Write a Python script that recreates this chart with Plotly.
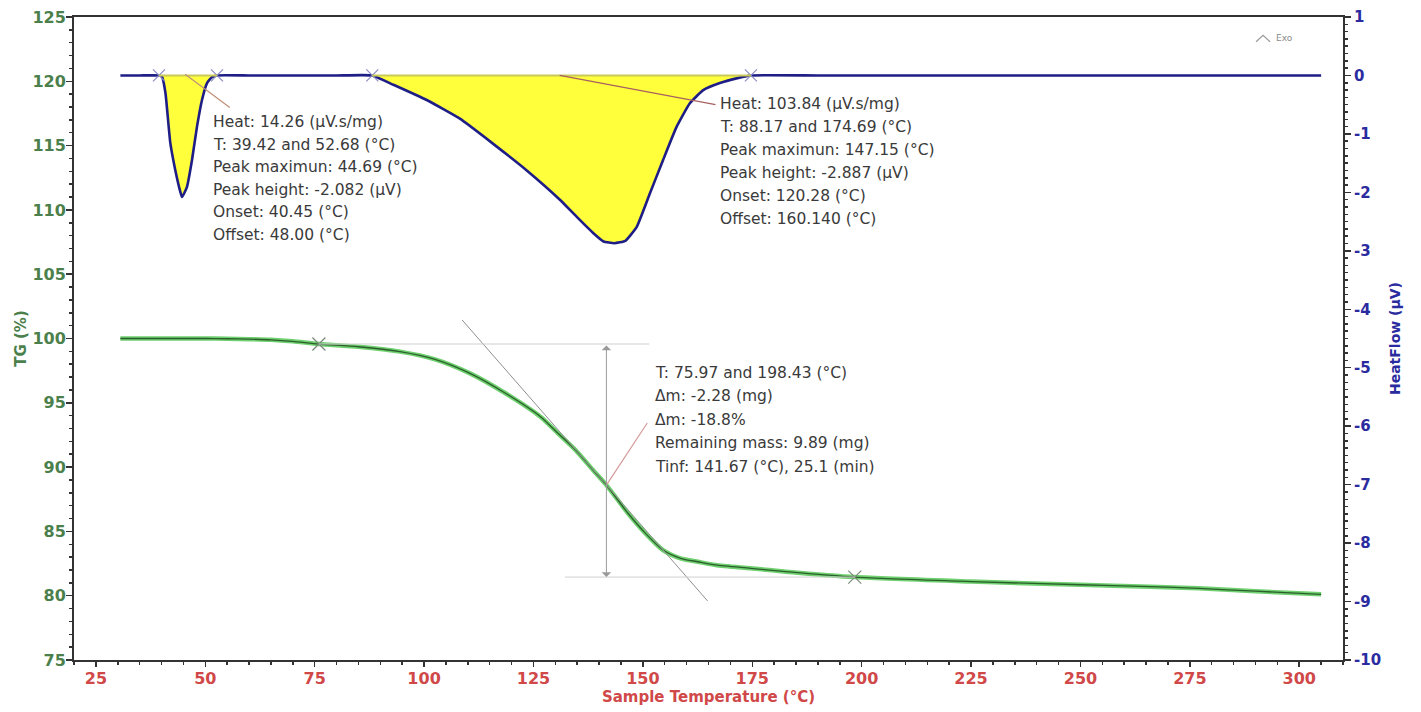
import plotly.graph_objects as go

# ---------------- data ----------------
# DSC heat flow (right axis, µV) vs sample temperature (°C)
dsc_temp = [30.6, 35.0, 39.42, 40.1, 40.9, 42.0, 43.15, 44.3, 44.69, 45.8, 46.96, 48.1, 49.25, 50.4, 51.5, 52.68,
            60.0, 70.0, 80.0, 88.17, 93.0, 100.6, 108.2, 115.8, 123.4, 131.1, 134.9, 138.7, 141.0, 143.5, 146.0,
            148.6, 151.6, 154.6, 157.7, 160.7, 163.8, 167.6, 171.4, 174.69, 190.0, 220.0, 250.0, 280.0, 305.0]
dsc_heatflow = [0, 0, 0, -0.02, -0.30, -1.15, -1.62, -1.99, -2.08, -1.91, -1.45, -0.88, -0.42, -0.13, -0.03, 0,
                0, 0, 0, 0, -0.16, -0.42, -0.74, -1.17, -1.62, -2.13, -2.42, -2.70, -2.84, -2.87, -2.83,
                -2.59, -2.02, -1.45, -0.88, -0.48, -0.25, -0.13, -0.05, 0, 0, 0, 0, 0, 0]
# integration limits of the two endothermic peaks
peak_limits = [(39.42, 52.68), (88.17, 174.69)]

# TG mass (left axis, %) vs sample temperature (°C)
tg_temp = [30.6, 40, 50, 55, 60, 65, 70, 75.97, 85, 94.5, 102.5, 110.5, 118.6, 126.6, 130.6, 134.6, 138.6,
           141.67, 146.6, 150.6, 154.6, 158.6, 162.6, 166.6, 174.6, 182.7, 198.43, 225, 250, 266, 277, 290, 305]
tg_mass = [100.0, 100.0, 100.0, 99.98, 99.95, 99.9, 99.78, 99.57, 99.36, 98.98, 98.38, 97.29, 95.74, 93.92,
           92.63, 91.33, 89.77, 88.6, 86.41, 84.85, 83.55, 82.91, 82.64, 82.39, 82.13, 81.87, 81.45, 81.1,
           80.85, 80.7, 80.57, 80.35, 80.11]
tg_limits = [75.97, 198.43]
tg_limit_mass = [99.57, 81.45]
tinf = 141.67
tinf_mass = 88.6
tangent_t = [108.7, 164.8]
tangent_m = [101.44, 79.59]

x_ticks = list(range(25, 301, 25))
y_ticks = list(range(75, 126, 5))
y2_ticks = list(range(-10, 2))
y2_labels = [str(v) for v in y2_ticks]

peak1_text = ["Heat: 14.26 (µV.s/mg)", "T: 39.42 and 52.68 (°C)", "Peak maximun: 44.69 (°C)",
              "Peak height: -2.082 (µV)", "Onset: 40.45 (°C)", "Offset: 48.00 (°C)"]
peak2_text = ["Heat: 103.84 (µV.s/mg)", "T: 88.17 and 174.69 (°C)", "Peak maximun: 147.15 (°C)",
              "Peak height: -2.887 (µV)", "Onset: 120.28 (°C)", "Offset: 160.140 (°C)"]
tg_text = ["T: 75.97 and 198.43 (°C)", "Δm: -2.28 (mg)", "Δm: -18.8%",
           "Remaining mass: 9.89 (mg)", "Tinf: 141.67 (°C), 25.1 (min)"]

# ---------------- styles ----------------
GREEN = "#4b7f4b"
RED = "#d04848"
BLUE = "#2b2ba0"
AXIS = "#333333"
TXT = "#3a3a3a"
FONT = "DejaVu Sans"

fig = go.Figure()

# DSC curve with yellow peak areas
fig.add_trace(go.Scatter(x=dsc_temp, y=dsc_heatflow, yaxis="y2", mode="lines",
                         line=dict(color="#1e1e86", width=2.6, shape="spline", smoothing=0.4),
                         fill="tozeroy", fillcolor="#ffff3c", hoverinfo="skip", showlegend=False))
# integration limit markers
lim_x = [v for pair in peak_limits for v in pair]
fig.add_trace(go.Scatter(x=lim_x, y=[0] * len(lim_x), yaxis="y2", mode="markers",
                         marker=dict(symbol="x-thin", size=12, line=dict(color="#8c8cc8", width=1.2)),
                         hoverinfo="skip", showlegend=False))

# TG curve (light green halo + dark core)
fig.add_trace(go.Scatter(x=tg_temp, y=tg_mass, mode="lines",
                         line=dict(color="#6fd06f", width=4.5, shape="spline", smoothing=0.7),
                         hoverinfo="skip", showlegend=False))
fig.add_trace(go.Scatter(x=tg_temp, y=tg_mass, mode="lines",
                         line=dict(color="#2c5e2c", width=1.3, shape="spline", smoothing=0.7),
                         hoverinfo="skip", showlegend=False))
fig.add_trace(go.Scatter(x=tg_limits, y=tg_limit_mass, mode="markers",
                         marker=dict(symbol="x-thin", size=13, line=dict(color="#7a8a7a", width=1.2)),
                         hoverinfo="skip", showlegend=False))

shapes = []
# integration baselines (olive) on top of the yellow fill
for a, b in peak_limits:
    shapes.append(dict(type="line", xref="x", yref="y2", x0=a, x1=b, y0=0, y1=0,
                       line=dict(color="#c9c95a", width=2)))
# leader lines of the DSC annotations
shapes.append(dict(type="line", xref="x", yref="y2", x0=45.4, y0=0.02, x1=55.6, y1=-0.55,
                   line=dict(color="#c09078", width=1.2)))
shapes.append(dict(type="line", xref="x", yref="y2", x0=131.0, y0=0.0, x1=166.6, y1=-0.5,
                   line=dict(color="#a86060", width=1.2)))
# TG tangent, reference levels and leader
shapes.append(dict(type="line", xref="x", yref="y", x0=tangent_t[0], y0=tangent_m[0],
                   x1=tangent_t[1], y1=tangent_m[1], line=dict(color="#8f8f8f", width=1)))
shapes.append(dict(type="line", xref="x", yref="y", x0=tg_limits[0], x1=151.5,
                   y0=tg_limit_mass[0], y1=tg_limit_mass[0], line=dict(color="#d0d0d0", width=1)))
shapes.append(dict(type="line", xref="x", yref="y", x0=132.2, x1=tg_limits[1],
                   y0=tg_limit_mass[1], y1=tg_limit_mass[1], line=dict(color="#d0d0d0", width=1)))
shapes.append(dict(type="line", xref="x", yref="y", x0=tinf, y0=tinf_mass, x1=151.0, y1=93.43,
                   line=dict(color="#d49a9a", width=1.2)))
# "Exo" chevron (paper coordinates)
shapes.append(dict(type="path", xref="paper", yref="paper",
                   path="M 0.9315 0.9615 L 0.937 0.9715 L 0.9425 0.9615",
                   line=dict(color="#9a9a9a", width=1.2)))

annotations = []
# vertical double arrow (mass loss)
annotations.append(dict(x=tinf, y=tg_limit_mass[1], ax=tinf, ay=tg_limit_mass[0], xref="x", yref="y",
                        axref="x", ayref="y", text="", showarrow=True, arrowhead=1, startarrowhead=1,
                        arrowside="end+start", arrowsize=1.6, arrowwidth=1, arrowcolor="#9a9a9a"))


def add_block(lines, x, y0, step, yref):
    for i, t in enumerate(lines):
        annotations.append(dict(x=x, y=y0, xref="x", yref=yref, text=t, showarrow=False,
                                xanchor="left", yanchor="middle", yshift=-i * step,
                                font=dict(family=FONT, size=15.5, color=TXT)))


add_block(peak1_text, 51.2, 116.84, 22.6, "y")
add_block(peak2_text, 167.2, 118.24, 23.0, "y")
add_block(tg_text, 152.3, 97.32, 23.4, "y")

annotations.append(dict(x=0.962, y=0.978, xref="paper", yref="paper", text="Exo", showarrow=False,
                        font=dict(family=FONT, size=9, color="#8a8a8a")))

fig.update_layout(
    width=1421, height=712,
    margin=dict(l=74, r=78, t=17, b=52),
    paper_bgcolor="white", plot_bgcolor="white",
    showlegend=False, hovermode=False,
    shapes=shapes, annotations=annotations,
    xaxis=dict(range=[20, 310], tickvals=x_ticks, ticks="outside", ticklen=5, tickwidth=1.5,
               tickcolor=AXIS, showline=True, linecolor=AXIS, linewidth=2, mirror=True,
               showgrid=False, zeroline=False, automargin=False, ticklabelstandoff=-2,
               minor=dict(dtick=5, tick0=0, ticks="outside", ticklen=3, tickcolor=AXIS, showgrid=False),
               tickfont=dict(family=FONT, size=16, color=RED, weight="bold"),
               title=dict(text="Sample Temperature (°C)", standoff=2,
                          font=dict(family=FONT, size=15, color=RED, weight="bold"))),
    yaxis=dict(range=[75, 125], tickvals=y_ticks, ticks="outside", ticklen=6, tickwidth=1.5,
               tickcolor=AXIS, showline=True, linecolor=AXIS, linewidth=2,
               showgrid=False, zeroline=False, automargin=False, ticklabelstandoff=-3,
               minor=dict(dtick=1, tick0=0, ticks="outside", ticklen=3, tickcolor=AXIS, showgrid=False),
               tickfont=dict(family=FONT, size=16, color=GREEN, weight="bold"),
               title=dict(text="TG (%)", standoff=2,
                          font=dict(family=FONT, size=15, color=GREEN, weight="bold"))),
    yaxis2=dict(range=[-10, 1], overlaying="y", side="right", tickvals=y2_ticks, ticktext=y2_labels,
                ticks="outside", ticklen=6, tickwidth=1.5, tickcolor=AXIS, showline=True,
                linecolor=AXIS, linewidth=2, showgrid=False, zeroline=False, automargin=False,
                minor=dict(dtick=0.125, tick0=0, ticks="outside", ticklen=3, tickcolor=AXIS, showgrid=False),
                tickfont=dict(family=FONT, size=15, color=BLUE, weight="bold"),
                title=dict(text="HeatFlow (µV)", standoff=10,
                           font=dict(family=FONT, size=14, color=BLUE, weight="bold"))),
)

fig.write_html("out.html", config={"displayModeBar": False, "staticPlot": True},
               post_script="document.body.style.margin='0';")
